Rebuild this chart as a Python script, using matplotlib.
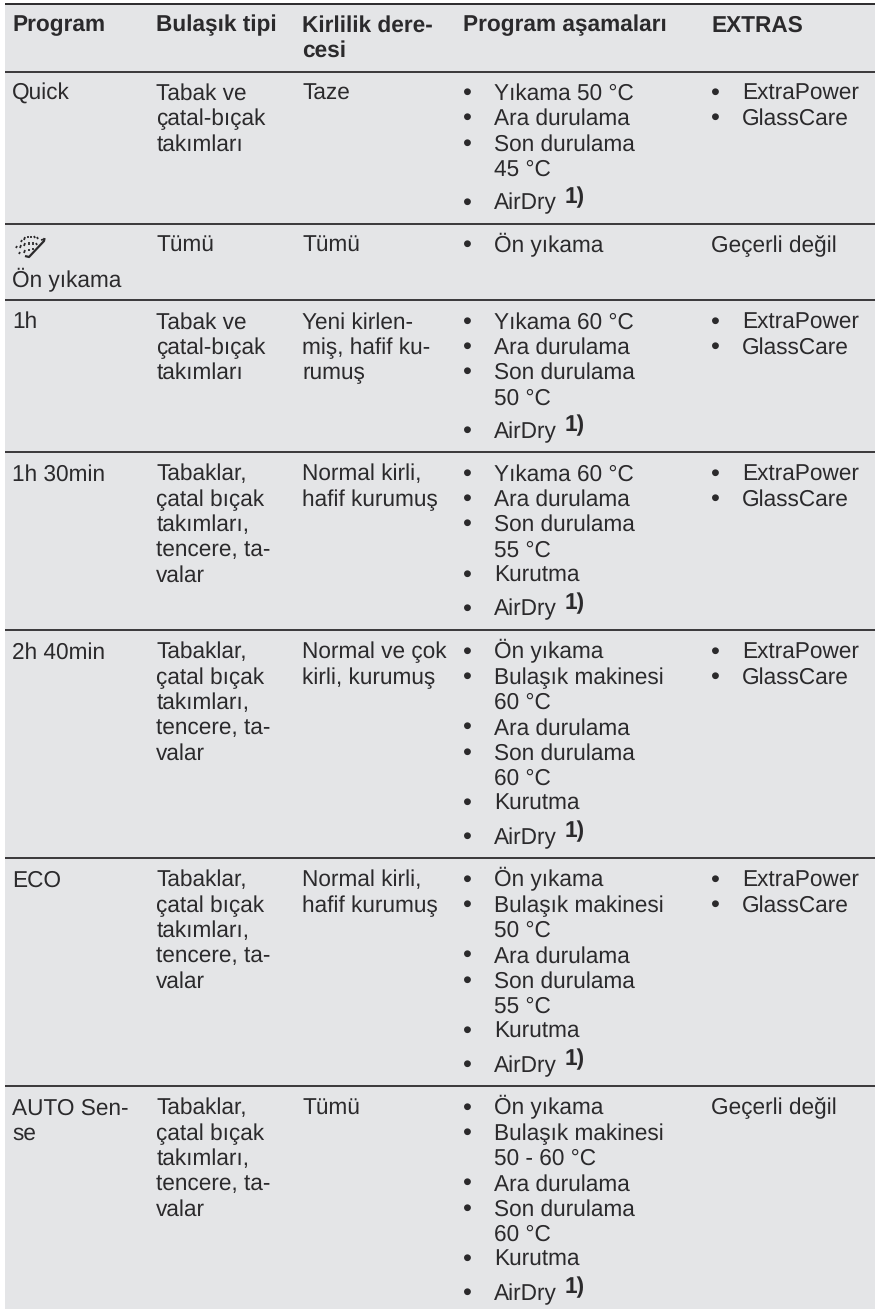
import matplotlib
matplotlib.use("Agg")
import matplotlib.pyplot as plt

plt.rcParams['font.family'] = ['Liberation Sans', 'DejaVu Sans']
plt.rcParams['text.hinting'] = 'no_hinting'

W, H = 875, 1309
BG = '#e4e5e7'
INK = '#2b2a2c'

headers = ['Program', 'Bulaşık tipi', 'Kirlilik dere-\ncesi', 'Program aşamaları', 'EXTRAS']

programs = ['Quick', 'Ön yıkama', '1h', '1h 30min', '2h 40min', 'ECO', 'AUTO Sen-\nse']

dish_types = [
    'Tabak ve\nçatal-bıçak\ntakımları',
    'Tümü',
    'Tabak ve\nçatal-bıçak\ntakımları',
    'Tabaklar,\nçatal bıçak\ntakımları,\ntencere, ta-\nvalar',
    'Tabaklar,\nçatal bıçak\ntakımları,\ntencere, ta-\nvalar',
    'Tabaklar,\nçatal bıçak\ntakımları,\ntencere, ta-\nvalar',
    'Tabaklar,\nçatal bıçak\ntakımları,\ntencere, ta-\nvalar',
]

soil_levels = [
    'Taze',
    'Tümü',
    'Yeni kirlen-\nmiş, hafif ku-\nrumuş',
    'Normal kirli,\nhafif kurumuş',
    'Normal ve çok\nkirli, kurumuş',
    'Normal kirli,\nhafif kurumuş',
    'Tümü',
]

stages = [
    ['Yıkama 50 °C', 'Ara durulama', 'Son durulama\n45 °C', 'AirDry'],
    ['Ön yıkama'],
    ['Yıkama 60 °C', 'Ara durulama', 'Son durulama\n50 °C', 'AirDry'],
    ['Yıkama 60 °C', 'Ara durulama', 'Son durulama\n55 °C', 'Kurutma', 'AirDry'],
    ['Ön yıkama', 'Bulaşık makinesi\n60 °C', 'Ara durulama', 'Son durulama\n60 °C', 'Kurutma', 'AirDry'],
    ['Ön yıkama', 'Bulaşık makinesi\n50 °C', 'Ara durulama', 'Son durulama\n55 °C', 'Kurutma', 'AirDry'],
    ['Ön yıkama', 'Bulaşık makinesi\n50 - 60 °C', 'Ara durulama', 'Son durulama\n60 °C', 'Kurutma', 'AirDry'],
]

extras = [
    ['ExtraPower', 'GlassCare'],
    'Geçerli değil',
    ['ExtraPower', 'GlassCare'],
    ['ExtraPower', 'GlassCare'],
    ['ExtraPower', 'GlassCare'],
    ['ExtraPower', 'GlassCare'],
    'Geçerli değil',
]

# rule positions in pixels, header rule first
row_tops = [71.5, 223.5, 300, 452, 630, 858, 1086]
col_x = [12.4, 156.4, 302.4, 463.4, 711.4]
FS = 16.25
PITCH = 25.3


def put(ax, x, y, s, **kw):
    # y is the baseline of the first line
    for i, line in enumerate(s.split('\n')):
        ax.text(x, y + i * PITCH, line, fontsize=FS, color=INK, va='baseline', ha='left', **kw)
    return s.count('\n') + 1


def bullets(ax, x, y, items):
    n = 0
    for item in items:
        # AirDry sits a little lower, its footnote mark makes the line taller
        extra = 8.5 if item == 'AirDry' else 0
        ax.text(x + 4.2, y + n * PITCH + extra, '•', fontsize=FS + 2, color=INK, va='baseline', ha='center')
        put(ax, x + 30.5, y + n * PITCH + extra, item)
        if item == 'AirDry':
            ax.text(x + 101, y + n * PITCH + extra - 6.5, '1)', fontsize=FS, color=INK,
                    weight='bold', va='baseline', ha='left')
        n += item.count('\n') + 1


def prewash_icon(ax):
    # small spray symbol in the second row
    for x0, y0, x1, y1 in [(22, 240, 21, 242), (25, 237, 24, 240), (28, 236, 28, 238),
                           (31, 236, 31, 238), (34, 236, 35, 238), (37, 237, 38, 239),
                           (17, 246, 16, 248), (21, 245, 20, 248), (25, 243, 24, 246),
                           (29, 242, 29, 245), (33, 242, 33, 245), (36, 243, 37, 245),
                           (20, 252, 19, 254), (25, 250, 24, 253), (29, 249, 29, 251),
                           (33, 248, 33, 250)]:
        ax.plot([x0, x1], [y0, y1], color=INK, lw=1.3, solid_capstyle='butt')
    ax.plot([25, 29, 44, 44.5], [256, 257, 241, 238], color=INK, lw=1.6, solid_capstyle='butt')
    ax.plot([41, 45], [240, 239], color=INK, lw=1.2, solid_capstyle='butt')


fig = plt.figure(figsize=(W / 100, H / 100), dpi=100, facecolor='white')
ax = fig.add_axes([0, 0, 1, 1])
ax.set_xlim(0, W)
ax.set_ylim(H, 0)
ax.axis('off')

ax.axhspan(3, H, xmin=5 / W, xmax=1, color=BG, lw=0)
ax.plot([5, W], [3.8, 3.8], color=INK, lw=1.4, solid_capstyle='butt')
for y in row_tops:
    ax.plot([5, W], [y, y], color=INK, lw=1.3, solid_capstyle='butt')

for x, h in zip(col_x, headers):
    put(ax, x, 31.5, h, weight='bold')

for i, top in enumerate(row_tops):
    base = top + 28.4
    if programs[i] == 'Ön yıkama':
        prewash_icon(ax)
        put(ax, col_x[0], base + 35, programs[i])
    else:
        put(ax, col_x[0], base, programs[i])
    put(ax, col_x[1], base, dish_types[i])
    put(ax, col_x[2], base, soil_levels[i])
    bullets(ax, col_x[3], base, stages[i])
    if isinstance(extras[i], str):
        put(ax, col_x[4], base, extras[i])
    else:
        bullets(ax, col_x[4], base, extras[i])

fig.savefig('out.png', dpi=100)
